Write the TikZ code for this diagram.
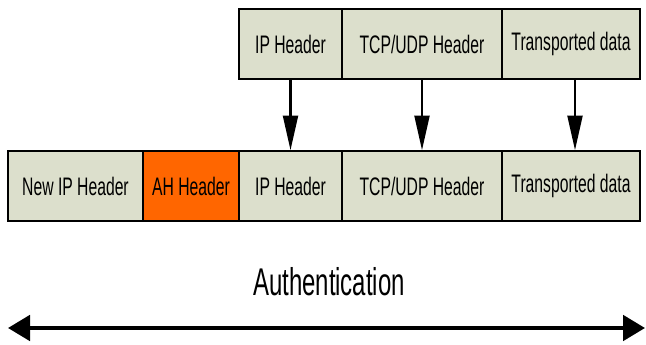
\documentclass[tikz,border=0pt]{standalone}
\usepackage{fontspec}
\newfontfamily\boxfont[FakeStretch=0.62]{Liberation Sans}
\usetikzlibrary{arrows.meta}
\definecolor{fieldgray}{RGB}{220,223,204}
\definecolor{ahorange}{RGB}{255,102,0}

\begin{document}
\begin{tikzpicture}[x=0.75pt,y=-0.75pt,
	field/.style={draw,line width=0.9pt,fill=fieldgray,minimum height=52.5pt,inner sep=0pt,
		font=\boxfont\fontsize{19}{20}\selectfont},
	down/.style={line width=2.2pt,-{Triangle[length=26pt,width=11pt]},shorten <=-0.5pt},
	span/.style={line width=3pt,{Triangle[length=16.5pt,width=19pt]}-{Triangle[length=16.5pt,width=19pt]}}]

	\useasboundingbox (0,0) rectangle (646,345);

	% original packet
	\node[field,minimum width=77.25pt] (ipA) at (290.5,44) {IP Header};
	\node[field,minimum width=120pt] (tcpA) at (422,44) {TCP/UDP Header};
	\node[field,minimum width=103.5pt] (dataA) at (571,44) {Transported data};

	% packet with AH
	\node[field,minimum width=101.25pt] (newip) at (75.5,186) {New IP Header};
	\node[field,fill=ahorange,minimum width=72pt] (ah) at (191,186) {AH Header};
	\node[field,minimum width=77.25pt] (ipB) at (290.5,186) {IP Header};
	\node[field,minimum width=120pt] (tcpB) at (422,186) {TCP/UDP Header};
	\node[field,minimum width=103.5pt] (dataB) at (571,186) {Transported data};

	\draw[down] (ipA.south) -- (ipB.north);
	\draw[down] (tcpA.south) -- (tcpB.north);
	\draw[down] ([xshift=3pt]dataA.south) -- ([xshift=3pt]dataB.north);

	\node[font=\boxfont\fontsize{29}{30}\selectfont] (auth) at (329,282) {Authentication};
	\coordinate (spanL) at (8,328);
	\coordinate (spanR) at (645,328);
	\draw[span] (spanL) -- (spanR); %authenticated range

\end{tikzpicture}
\end{document}
